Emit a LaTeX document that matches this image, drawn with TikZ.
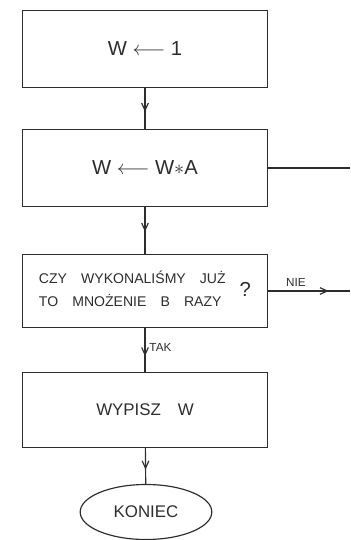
\documentclass[tikz,border=0pt]{standalone}
\usepackage{fontspec}
\setsansfont{Liberation Sans}
\usetikzlibrary{arrows.meta,shapes.geometric,decorations.markings}
\definecolor{pencil}{RGB}{45,45,45}

\tikzset{
  block/.style={draw=pencil, line width=1pt, minimum width=7.35cm, minimum height=2.3cm,
    font=\sffamily\Large, text=pencil},
  flow/.style={draw=pencil, line width=1pt, postaction={decorate},
    decoration={markings, mark=at position #1 with {\arrow{Straight Barb[length=2.2mm,width=2mm]}}}},
  flow/.default=0.6,
  lbl/.style={font=\sffamily, text=pencil},
}

\begin{document}
\begin{tikzpicture}[x=0.03cm, y=-0.03cm]
    \useasboundingbox (0,0) rectangle (350,540);
    % blocks
    \node[block] (init) at (145,49) {\LARGE W $\longleftarrow$ 1};
    \node[block] (mult) at (145,168) {\LARGE W $\longleftarrow$ W$\ast$A};
    \node[block, minimum height=2.2cm, font=\sffamily\large] (ask) at (145,291)
        {\begin{tabular}{@{}l@{}}CZY\quad WYKONALIŚMY\quad JUŻ\\[5pt]TO\quad MNOŻENIE\quad B\quad RAZY\end{tabular}\quad\raisebox{-0.2ex}{\LARGE ?}};
    \node[block, minimum height=2.25cm] (out) at (145,410) {WYPISZ\quad W};
    \node[draw=pencil, line width=1pt, ellipse, minimum width=3.95cm, minimum height=1.65cm,
        font=\sffamily\Large, text=pencil] (stop) at (146,512) {KONIEC};
    % free ends on the right
    \coordinate (loop) at (350,168);
    \coordinate (no) at (350,291);
    % connectors
    \draw[flow=0.58] (init) -- (mult);
    \draw[flow=0.53] (mult) -- (ask);
    \draw[flow=0.64] (ask) -- (out) node[lbl, right, pos=0.45] {TAK};
    \draw[flow=0.6] (out) -- (stop);
    \draw[draw=pencil, line width=1pt] (mult) -- (loop);
    \draw[flow=0.74] (ask) -- (no) node[lbl, above, pos=0.34] {NIE};
\end{tikzpicture}
\end{document}
